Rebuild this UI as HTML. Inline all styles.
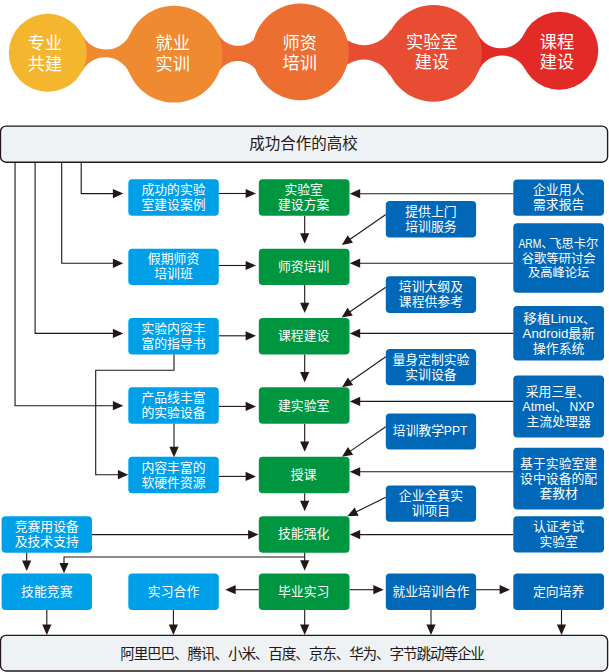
<!DOCTYPE html>
<html lang="zh-CN"><head><meta charset="utf-8"><title>校企合作流程</title>
<style>
html,body{margin:0;padding:0;background:#fff;}
body{width:609px;height:672px;overflow:hidden;font-family:"Liberation Sans","Noto Sans CJK SC",sans-serif;}
svg{display:block;}
.l{fill:none;stroke:#231815;stroke-width:1.12;stroke-linejoin:round;}
.sem text{fill:#fff;font-family:"Liberation Sans","Noto Sans CJK SC",sans-serif;}
.sem text.d{fill:#231815;}
</style></head><body>
<svg width="609" height="672" viewBox="0 0 609 672">
<g id="top">
<path fill="#E22B27" d="M477.4,33.26 A25.86,25.86 0 0 0 524.18,33.73 L524.94,69.16 A25.86,25.86 0 0 0 478.23,71.63 Z"/>
<circle cx="559.3" cy="50.7" r="39" fill="#E22B27"/>
<path fill="#E84D33" d="M347.4,40.37 A31,31 0 0 0 390.95,29.37 L389.87,75.68 A29.5,29.5 0 0 0 347.13,64.48 Z"/>
<circle cx="433.5" cy="53.4" r="48.3" fill="#E84D33"/>
<path fill="#EC6E31" d="M217.5,32.93 A23,23 0 0 0 253.76,39.74 L255.11,68.41 A23,23 0 0 0 219.57,70.52 Z"/>
<circle cx="300.5" cy="51.9" r="48.3" fill="#EC6E31"/>
<path fill="#F08A30" d="M82.6,35.19 A26.25,26.25 0 0 0 129.93,34.19 L129.5,73.23 A26.25,26.25 0 0 0 82.2,71.18 Z"/>
<circle cx="174" cy="54.2" r="48.4" fill="#F08A30"/>
<circle cx="47.8" cy="52.8" r="39" fill="#F4B62E"/>
</g>
<g id="lines" fill="#231815">
<polygon points="123.3,193.6 112.9,198.2 112.9,189"/>
<polyline class="l" points="81.2,162.2 81.2,193.6 114.98,193.6"/>
<polygon points="123.3,263.3 112.9,267.9 112.9,258.7"/>
<polyline class="l" points="61.7,162.2 61.7,263.3 114.98,263.3"/>
<polygon points="123.3,333.4 112.9,338 112.9,328.8"/>
<polyline class="l" points="35.1,162.2 35.1,333.4 114.98,333.4"/>
<polygon points="123.3,405.7 112.9,410.3 112.9,401.1"/>
<polyline class="l" points="15.05,162.2 15.05,405.7 114.98,405.7"/>
<polygon points="128.3,474.7 117.9,479.3 117.9,470.1"/>
<polyline class="l" points="174,354.3 174,370.2 95.7,370.2 95.7,474.7 119.98,474.7"/>
<polygon points="174,457.2 169.4,446.8 178.6,446.8"/>
<polyline class="l" points="174,423.5 174,448.88"/>
<polygon points="256,193.5 245.6,198.1 245.6,188.9"/>
<polyline class="l" points="218.8,193.5 247.68,193.5"/>
<polygon points="256,265.5 245.6,270.1 245.6,260.9"/>
<polyline class="l" points="218.8,265.5 247.68,265.5"/>
<polygon points="256,335.8 245.6,340.4 245.6,331.2"/>
<polyline class="l" points="218.8,335.8 247.68,335.8"/>
<polygon points="256,406.4 245.6,411 245.6,401.8"/>
<polyline class="l" points="218.8,406.4 247.68,406.4"/>
<polygon points="256,476.4 245.6,481 245.6,471.8"/>
<polyline class="l" points="218.8,476.4 247.68,476.4"/>
<polygon points="304.7,243.65 300.1,233.25 309.3,233.25"/>
<polyline class="l" points="304.7,215.8 304.7,235.33"/>
<polygon points="304.7,313.05 300.1,302.65 309.3,302.65"/>
<polyline class="l" points="304.7,285.1 304.7,304.73"/>
<polygon points="304.7,382.3 300.1,371.9 309.3,371.9"/>
<polyline class="l" points="304.7,354.5 304.7,373.98"/>
<polygon points="304.7,451.8 300.1,441.4 309.3,441.4"/>
<polyline class="l" points="304.7,423.8 304.7,443.48"/>
<polygon points="304.7,511.2 300.1,500.8 309.3,500.8"/>
<polyline class="l" points="304.7,493.15 304.7,502.88"/>
<polygon points="349.8,193.7 360.2,189.1 360.2,198.3"/>
<polyline class="l" points="513.3,193.7 358.12,193.7"/>
<polygon points="349.8,263.2 360.2,258.6 360.2,267.8"/>
<polyline class="l" points="513.3,263.2 358.12,263.2"/>
<polygon points="349.8,333.4 360.2,328.8 360.2,338"/>
<polyline class="l" points="513.3,333.4 358.12,333.4"/>
<polygon points="349.8,401.4 360.2,396.8 360.2,406"/>
<polyline class="l" points="513.3,401.4 358.12,401.4"/>
<polygon points="349.8,471.8 360.2,467.2 360.2,476.4"/>
<polyline class="l" points="513.3,471.8 358.12,471.8"/>
<polygon points="349.8,534.6 360.2,530 360.2,539.2"/>
<polyline class="l" points="513.3,534.6 358.12,534.6"/>
<polygon points="341.8,245 347.73,235.29 352.97,242.86"/>
<polyline class="l" points="385.8,214.5 348.64,240.26"/>
<polygon points="341.6,317.5 347.58,307.83 352.78,315.41"/>
<polyline class="l" points="385.8,287.2 348.46,312.8"/>
<polygon points="342,387.2 347.91,377.48 353.16,385.03"/>
<polyline class="l" points="385.8,356.7 348.83,382.45"/>
<polygon points="342,456.8 347.97,447.12 353.18,454.7"/>
<polyline class="l" points="385.8,426.7 348.86,452.09"/>
<polygon points="347.3,516.3 354.59,507.57 358.66,515.82"/>
<polyline class="l" points="385.8,497.3 354.76,512.62"/>
<polygon points="258.5,534.6 248.1,539.2 248.1,530"/>
<polyline class="l" points="92,534.6 250.18,534.6"/>
<polygon points="26.7,571 22.1,560.6 31.3,560.6"/>
<polyline class="l" points="26.7,552.3 26.7,562.68"/>
<polygon points="304.7,570.7 300.1,560.3 309.3,560.3"/>
<polyline class="l" points="304.7,552.3 304.7,562.38"/>
<polygon points="64,573.3 59.4,562.9 68.6,562.9"/>
<polyline class="l" points="304.7,557 64,557 64,564.98"/>
<polygon points="225.3,589.7 235.7,585.1 235.7,594.3"/>
<polyline class="l" points="258.8,589.7 233.62,589.7"/>
<polygon points="383.7,589.7 373.3,594.3 373.3,585.1"/>
<polyline class="l" points="349.7,589.7 375.38,589.7"/>
<polygon points="510,589.7 499.6,594.3 499.6,585.1"/>
<polyline class="l" points="476.1,589.7 501.68,589.7"/>
<polygon points="46.8,634.9 42.2,624.5 51.4,624.5"/>
<polyline class="l" points="46.8,610 46.8,626.58"/>
<polygon points="173.4,634.9 168.8,624.5 178,624.5"/>
<polyline class="l" points="173.4,610 173.4,626.58"/>
<polygon points="304.7,634.9 300.1,624.5 309.3,624.5"/>
<polyline class="l" points="304.7,610 304.7,626.58"/>
<polygon points="431,634.9 426.4,624.5 435.6,624.5"/>
<polyline class="l" points="431,610 431,626.58"/>
<polygon points="561.5,634.9 556.9,624.5 566.1,624.5"/>
<polyline class="l" points="561.5,610 561.5,626.58"/>
</g>
<g id="boxes">
<rect x="0.5" y="126.05" width="607.1" height="36.15" rx="5.5" fill="#EEF2F5" stroke="#231815" stroke-width="1.35"/>
<rect x="0.5" y="635.4" width="607.1" height="35.6" rx="5.5" fill="#EEF2F5" stroke="#231815" stroke-width="1.35"/>
<rect x="128.3" y="179.35" width="90.5" height="36.45" rx="4" fill="#00A0E9"/>
<rect x="128.3" y="248.65" width="90.5" height="36.45" rx="4" fill="#00A0E9"/>
<rect x="128.3" y="318.05" width="90.5" height="36.45" rx="4" fill="#00A0E9"/>
<rect x="128.3" y="387.3" width="90.5" height="36.5" rx="4" fill="#00A0E9"/>
<rect x="128.3" y="456.8" width="90.5" height="36.35" rx="4" fill="#00A0E9"/>
<rect x="128.3" y="573.5" width="90.5" height="36.5" rx="4" fill="#00A0E9"/>
<rect x="1.6" y="516.2" width="90.4" height="36.6" rx="4" fill="#00A0E9"/>
<rect x="1.6" y="573.5" width="90.4" height="36.5" rx="4" fill="#00A0E9"/>
<rect x="258.8" y="179.35" width="90.7" height="36.45" rx="4" fill="#009640"/>
<rect x="258.8" y="248.65" width="90.7" height="36.45" rx="4" fill="#009640"/>
<rect x="258.8" y="318.05" width="90.7" height="36.45" rx="4" fill="#009640"/>
<rect x="258.8" y="387.3" width="90.7" height="36.5" rx="4" fill="#009640"/>
<rect x="258.8" y="456.8" width="90.7" height="36.35" rx="4" fill="#009640"/>
<rect x="258.8" y="516.2" width="90.7" height="36.6" rx="4" fill="#009640"/>
<rect x="258.8" y="573.5" width="90.7" height="36.5" rx="4" fill="#009640"/>
<rect x="385.8" y="201" width="90.3" height="36.4" rx="4" fill="#0068B7"/>
<rect x="385.8" y="276.3" width="90.3" height="36.6" rx="4" fill="#0068B7"/>
<rect x="385.8" y="349.1" width="90.3" height="36.1" rx="4" fill="#0068B7"/>
<rect x="385.8" y="413.4" width="90.3" height="36.1" rx="4" fill="#0068B7"/>
<rect x="385.8" y="485.6" width="90.3" height="36.1" rx="4" fill="#0068B7"/>
<rect x="385.8" y="573.5" width="90.3" height="36.5" rx="4" fill="#0068B7"/>
<rect x="513.3" y="179.4" width="90.7" height="36.4" rx="4" fill="#0068B7"/>
<rect x="513.3" y="223.3" width="90.7" height="69.4" rx="4" fill="#0068B7"/>
<rect x="513.3" y="305.9" width="90.7" height="54.6" rx="4" fill="#0068B7"/>
<rect x="513.3" y="375.6" width="90.7" height="61.8" rx="4" fill="#0068B7"/>
<rect x="513.3" y="447.8" width="90.7" height="61.6" rx="4" fill="#0068B7"/>
<rect x="513.3" y="516.2" width="90.7" height="36.4" rx="4" fill="#0068B7"/>
<rect x="513.3" y="573.5" width="90.7" height="36.5" rx="4" fill="#0068B7"/>
</g>
<g class="sem">
<text x="27.7" y="49.34" font-size="17.2">专业</text>
<text x="27.7" y="69.54" font-size="17.2">共建</text>
<text x="155.5" y="49.34" font-size="17.2">就业</text>
<text x="155.5" y="69.54" font-size="17.2">实训</text>
<text x="282.5" y="48.84" font-size="17.2">师资</text>
<text x="282.5" y="69.04" font-size="17.2">培训</text>
<text x="406.1" y="47.54" font-size="17.2">实验室</text>
<text x="414.7" y="67.74" font-size="17.2">建设</text>
<text x="539.8" y="48.04" font-size="17.2">课程</text>
<text x="539.8" y="68.24" font-size="17.2">建设</text>
<text class="d" x="249.35" y="149.19" font-size="15.5">成功合作的高校</text>
<text class="d" x="120.17" y="658.55" font-size="14.6" textLength="364.8" lengthAdjust="spacing">阿里巴巴、腾讯、小米、百度、京东、华为、字节跳动等企业</text>
<text x="141.43" y="194.06" font-size="12.85">成功的实验</text>
<text x="141.43" y="209.06" font-size="12.85">室建设案例</text>
<text x="147.85" y="263.36" font-size="12.85">假期师资</text>
<text x="154.28" y="278.36" font-size="12.85">培训班</text>
<text x="141.43" y="332.76" font-size="12.85">实验内容丰</text>
<text x="141.43" y="347.76" font-size="12.85">富的指导书</text>
<text x="141.43" y="402.03" font-size="12.85">产品线丰富</text>
<text x="141.43" y="417.03" font-size="12.85">的实验设备</text>
<text x="141.43" y="471.96" font-size="12.85">内容丰富的</text>
<text x="141.43" y="486.96" font-size="12.85">软硬件资源</text>
<text x="147.85" y="595.73" font-size="12.85">实习合作</text>
<text x="14.67" y="530.98" font-size="12.85">竞赛用设备</text>
<text x="14.67" y="545.98" font-size="12.85">及技术支持</text>
<text x="21.1" y="595.73" font-size="12.85">技能竞赛</text>
<text x="284.38" y="194.06" font-size="12.85">实验室</text>
<text x="277.95" y="209.06" font-size="12.85">建设方案</text>
<text x="277.95" y="270.86" font-size="12.85">师资培训</text>
<text x="277.95" y="340.26" font-size="12.85">课程建设</text>
<text x="277.95" y="409.53" font-size="12.85">建实验室</text>
<text x="290.8" y="478.96" font-size="12.85">授课</text>
<text x="277.95" y="538.48" font-size="12.85">技能强化</text>
<text x="277.95" y="595.73" font-size="12.85">毕业实习</text>
<text x="405.25" y="215.68" font-size="12.85">提供上门</text>
<text x="405.25" y="230.68" font-size="12.85">培训服务</text>
<text x="398.83" y="291.08" font-size="12.85">培训大纲及</text>
<text x="398.83" y="306.08" font-size="12.85">课程供参考</text>
<text x="392.4" y="363.63" font-size="12.85">量身定制实验</text>
<text x="405.25" y="378.63" font-size="12.85">实训设备</text>
<text x="392.8" y="435.43" font-size="12.85">培训教学</text>
<text x="443.8" y="435.43" font-size="12.85" textLength="23.8" lengthAdjust="spacingAndGlyphs">PPT</text>
<text x="398.83" y="500.13" font-size="12.85">企业全真实</text>
<text x="411.68" y="515.13" font-size="12.85">训项目</text>
<text x="392.4" y="595.73" font-size="12.85">就业培训合作</text>
<text x="532.95" y="194.08" font-size="12.85">企业用人</text>
<text x="532.95" y="209.08" font-size="12.85">需求报告</text>
<text x="518.4" y="247.67" font-size="12.3" textLength="22.9" lengthAdjust="spacingAndGlyphs">ARM</text>
<text x="541.3" y="247.67" font-size="12.3">、</text>
<text x="549.2" y="247.67" font-size="12.3">飞思卡尔</text>
<text x="521.75" y="262.57" font-size="12.3">谷歌等研讨会</text>
<text x="527.9" y="277.47" font-size="12.3">及高峰论坛</text>
<text x="523.3" y="322.58" font-size="12.85" textLength="59.7" lengthAdjust="spacingAndGlyphs">移植Linux</text>
<text x="583" y="322.58" font-size="12.85">、</text>
<text x="522.6" y="337.58" font-size="12.85" textLength="72.2" lengthAdjust="spacingAndGlyphs">Android最新</text>
<text x="532.95" y="352.58" font-size="12.85">操作系统</text>
<text x="525.7" y="395.78" font-size="12.85">采用三星、</text>
<text x="522.3" y="410.78" font-size="12.85" textLength="32.5" lengthAdjust="spacingAndGlyphs">Atmel</text>
<text x="554.8" y="410.78" font-size="12.85">、</text>
<text x="569.5" y="410.78" font-size="12.85" textLength="24.9" lengthAdjust="spacingAndGlyphs">NXP</text>
<text x="526.52" y="425.78" font-size="12.85">主流处理器</text>
<text x="520.1" y="467.98" font-size="12.85">基于实验室建</text>
<text x="520.1" y="482.98" font-size="12.85">设中设备的配</text>
<text x="539.38" y="497.98" font-size="12.85">套教材</text>
<text x="532.95" y="531.38" font-size="12.85">认证考试</text>
<text x="539.38" y="546.38" font-size="12.85">实验室</text>
<text x="532.95" y="595.73" font-size="12.85">定向培养</text>
</g>
</svg>
</body></html>
